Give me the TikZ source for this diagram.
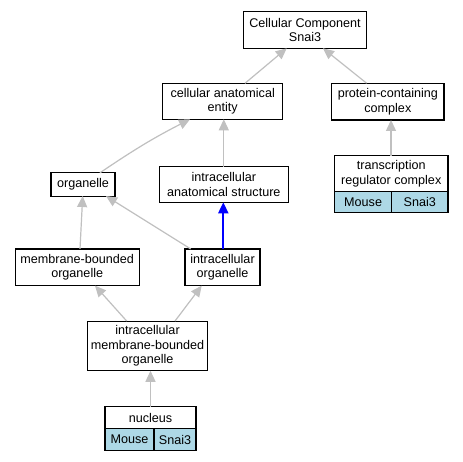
\documentclass[tikz,border=0pt]{standalone}
\usepackage{fontspec}
\setmainfont{Liberation Sans}
\usetikzlibrary{arrows.meta}
\definecolor{edgegray}{HTML}{C0C0C0}
\definecolor{cellblue}{HTML}{ADD8E6}
\definecolor{isablue}{RGB}{0,0,255}
\begin{document}
\begin{tikzpicture}[x=1pt,y=-1pt,
  every node/.style={inner sep=0pt, outer sep=0pt, font=\fontsize{12.6}{14.3}\selectfont, align=center},
  box/.style={draw=black, line width=1.1pt, fill=white, rectangle},
  cell/.style={draw=black, line width=1.1pt, fill=cellblue, rectangle},
  edge/.style={draw=edgegray, line width=1.2pt, -{Triangle[length=11pt,width=10pt,fill=edgegray]}},
  isa/.style={color=isablue, line width=2pt, -{Triangle[length=11pt,width=10pt,fill=isablue]}}]
\useasboundingbox (0,0) rectangle (463,461);
\fill[white] (0,0) rectangle (463,461);

\node[box, minimum width=123.4pt, minimum height=36.6pt] (cc) at (305,30) {Cellular Component\\Snai3};
\node[box, minimum width=120pt, minimum height=36pt] (cae) at (222.7,101.3) {cellular anatomical\\entity};
\node[box, minimum width=112.3pt, minimum height=36.7pt] (pcc) at (387.85,101.6) {protein-containing\\complex};
\node[box, minimum width=64pt, minimum height=23.3pt] (org) at (83,184.4) {organelle};
\node[box, minimum width=129pt, minimum height=35.6pt] (ias) at (223.8,184.5) {intracellular\\anatomical structure};
\node[box, minimum width=113.5pt, minimum height=36pt] (trc) at (391.25,173.7) {transcription\\regulator complex};
\node[cell, minimum width=57.2pt, minimum height=20.6pt] (trcm) at (363.1,202) {Mouse};
\node[cell, minimum width=56.3pt, minimum height=20.6pt] (trcs) at (419.85,202) {Snai3};
\node[box, minimum width=124.3pt, minimum height=36.7pt] (mbo) at (77.2,267.3) {membrane-bounded\\organelle};
\node[box, minimum width=75pt, minimum height=36.7pt] (io) at (222.5,267.3) {intracellular\\organelle};
\node[box, minimum width=120.4pt, minimum height=49.7pt] (imbo) at (147.5,345.9) {intracellular\\membrane-bounded\\organelle};
\node[box, minimum width=91pt, minimum height=21.6pt] (nuc) at (150.5,417.5) {nucleus};
\node[cell, minimum width=49pt, minimum height=22.4pt] (nucm) at (129.5,439.5) {Mouse};
\node[cell, minimum width=42pt, minimum height=22.4pt] (nucs) at (175,439.5) {Snai3};

\draw[edge] ([xshift=22.3pt]cae.north) -- ([xshift=-18.3pt]cc.south);
\draw[edge] ([xshift=-21.2pt]pcc.north) -- ([xshift=18pt]cc.south);
\draw[edge] ([xshift=-0.25pt]trc.north) -- ([xshift=3.15pt]pcc.south);
\draw[edge] ([xshift=17pt]org.north) to[out=34,in=207] ([xshift=-32.7pt]cae.south);
\draw[edge] (ias.north) -- ([xshift=1.1pt]cae.south);
\draw[edge] ([xshift=2.8pt]mbo.north) -- ([xshift=-0.3pt]org.south);
\draw[edge] ([xshift=-31.8pt]io.north) -- ([xshift=23pt]org.south);
\draw[isa] ([xshift=0.8pt]io.north) -- ([xshift=-0.5pt]ias.south);
\draw[edge] ([xshift=-20.8pt]imbo.north) -- ([xshift=17.8pt]mbo.south);
\draw[edge] ([xshift=27.5pt]imbo.north) -- ([xshift=-20.8pt]io.south);
\draw[edge] (nuc.north) -- ([xshift=3pt]imbo.south);
\end{tikzpicture}
\end{document}
